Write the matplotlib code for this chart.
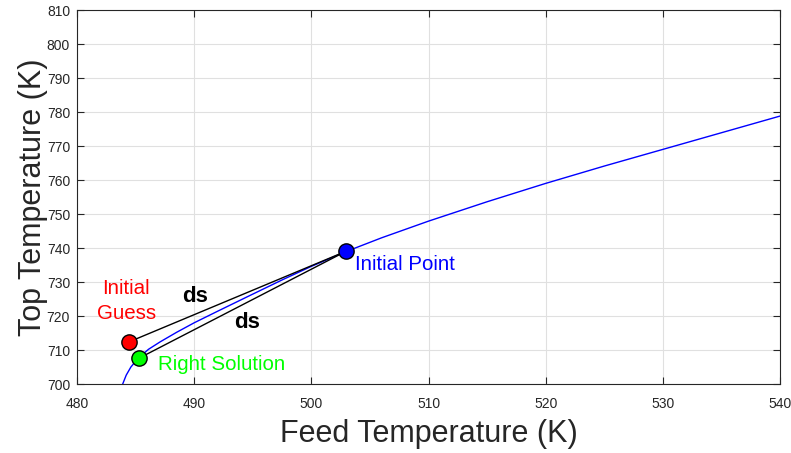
import matplotlib
matplotlib.use("Agg")
import matplotlib.pyplot as plt

plt.rcParams['font.family'] = ['Liberation Sans', 'DejaVu Sans']

# Solution branch: feed temperature vs. top temperature (K)
curve_feed = [483.9, 484.2, 484.6, 485.2, 486.1, 487.1, 488.5, 490.0, 492.0,
              494.5, 497.5, 500.0, 503.0, 506.0, 510.0, 515.0, 520.0, 525.0,
              530.0, 535.0, 540.0]
curve_top = [700.0, 702.6, 705.0, 707.5, 710.2, 712.4, 715.2, 718.0, 721.4,
             725.6, 730.6, 734.6, 739.0, 743.0, 747.9, 753.6, 759.0, 764.1,
             769.0, 773.9, 778.8]

initial_point = (503.0, 739.1)
initial_guess = (484.45, 712.4)
right_solution = (485.3, 707.6)

x_ticks = [480, 490, 500, 510, 520, 530, 540]
y_ticks = [700, 710, 720, 730, 740, 750, 760, 770, 780, 790, 800, 810]

fig = plt.figure(figsize=(7.91, 4.53), dpi=100)
ax = fig.add_axes([77 / 791, 69 / 453, 703 / 791, 374 / 453])

ax.plot(curve_feed, curve_top, color=(0, 0, 1), lw=1.0, zorder=3)

# arc-length steps from the initial point
ax.plot([initial_point[0], initial_guess[0]], [initial_point[1], initial_guess[1]],
        color='black', lw=1.0, zorder=4)
ax.plot([initial_point[0], right_solution[0]], [initial_point[1], right_solution[1]],
        color='black', lw=1.0, zorder=4)

mk = dict(marker='o', ms=11, mec='black', mew=1.0, ls='none', zorder=5)
ax.plot(*initial_point, mfc=(0, 0, 1), **mk)
ax.plot(*initial_guess, mfc=(1, 0, 0), **mk)
ax.plot(*right_solution, mfc=(0, 1, 0), **mk)

ax.text(503.7, 735.0, 'Initial Point', color=(0, 0, 1), fontsize=14.8,
        ha='left', va='center')
ax.text(484.2, 724.4, 'Initial\nGuess', color=(1, 0, 0), fontsize=14.8,
        ha='center', va='center', linespacing=1.35)
ax.text(486.9, 705.8, 'Right Solution', color=(0, 1, 0), fontsize=14.8,
        ha='left', va='center')
ax.text(490.1, 725.8, 'ds', color='black', fontsize=16, fontweight='bold',
        ha='center', va='center')
ax.text(494.5, 718.0, 'ds', color='black', fontsize=16, fontweight='bold',
        ha='center', va='center')

ax.set_xlim(480, 540)
ax.set_ylim(700, 810)
ax.set_xticks(x_ticks)
ax.set_yticks(y_ticks)
ax.grid(True, color=(0.88, 0.88, 0.88), lw=0.8)
ax.set_axisbelow(True)

axis_col = (0.15, 0.15, 0.15)
for s in ax.spines.values():
    s.set_color(axis_col)
    s.set_linewidth(0.8)
ax.tick_params(direction='in', top=True, right=True, length=5, width=0.8,
               color=axis_col, labelcolor=axis_col, labelsize=10)
ax.tick_params(axis='x', pad=9)
ax.tick_params(axis='y', pad=5)

ax.set_xlabel('Feed Temperature (K)', fontsize=22, color=axis_col, labelpad=6)
ax.set_ylabel('Top Temperature (K)', fontsize=22, color=axis_col, labelpad=-1)

fig.savefig('out.png', dpi=100)
